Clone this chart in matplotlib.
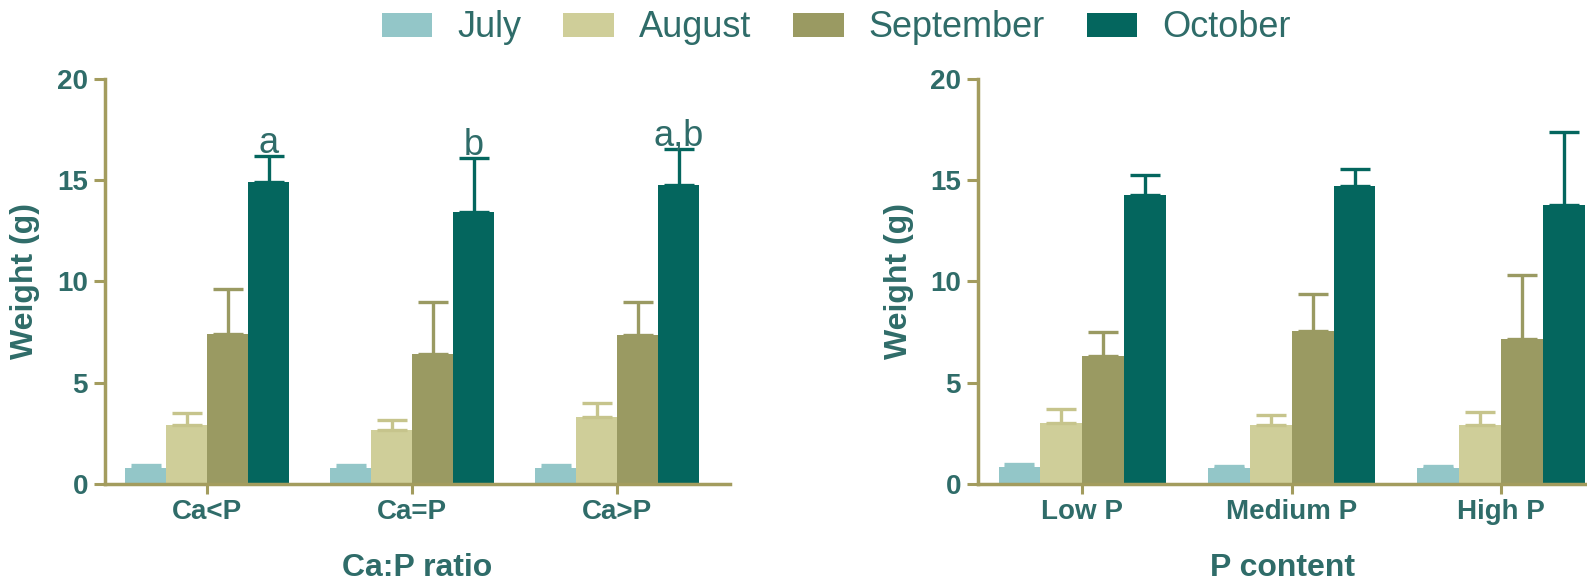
import numpy as np
import matplotlib.pyplot as plt
from matplotlib.patches import Patch

months = ["July", "August", "September", "October"]
colors = ["#93c6c8", "#cfce99", "#9a9a62", "#04665e"]
err_colors = ["#93c6c8", "#c6c48c", "#9a9a62", "#04665e"]

ratio_groups = ["Ca<P", "Ca=P", "Ca>P"]
ratio_means = [
    [0.8, 0.8, 0.8],
    [2.9, 2.65, 3.3],
    [7.4, 6.4, 7.35],
    [14.9, 13.4, 14.75],
]
ratio_sd = [
    [0.15, 0.15, 0.15],
    [0.6, 0.5, 0.7],
    [2.2, 2.6, 1.65],
    [1.3, 2.7, 1.8],
]
ratio_letters = ["a", "b", "a,b"]

p_groups = ["Low P", "Medium P", "High P"]
p_means = [
    [0.85, 0.8, 0.8],
    [3.0, 2.9, 2.9],
    [6.3, 7.55, 7.15],
    [14.25, 14.7, 13.75],
]
p_sd = [
    [0.15, 0.1, 0.1],
    [0.7, 0.5, 0.65],
    [1.2, 1.8, 3.15],
    [1.0, 0.85, 3.6],
]

TEXT = "#2f6c69"
AXIS = "#a39c5e"
plt.rcParams["font.family"] = ["Liberation Sans", "DejaVu Sans"]

fig = plt.figure(figsize=(15.87, 5.83), dpi=100)
ax1 = fig.add_axes([0.066, 0.170, 0.394, 0.695])
ax2 = fig.add_axes([0.616, 0.170, 0.384, 0.695])

width = 0.2
offsets = [-0.3, -0.1, 0.1, 0.3]


def draw_panel(ax, groups, means, sds, xlabel, xmax, letters=None):
    x = np.arange(len(groups))
    for i in range(len(months)):
        sd = np.array(sds[i])
        ax.bar(x + offsets[i], means[i], width, color=colors[i],
               yerr=[np.zeros_like(sd), sd],
               error_kw=dict(ecolor=err_colors[i], elinewidth=2.4,
                             capsize=11, capthick=2.4))
    if letters:
        # significance letters sit right on the October error caps
        for j, lab in enumerate(letters):
            top = means[3][j] + sds[3][j]
            ax.text(x[j] + offsets[3], top + 0.15, lab, ha="center",
                    va="baseline", fontsize=26, color=TEXT)
    ax.set_xlim(-0.5, xmax)
    ax.set_ylim(0, 20)
    ax.set_yticks([0, 5, 10, 15, 20])
    ax.set_xticks(x)
    ax.set_xticklabels(groups, fontsize=20, fontweight="bold", color=TEXT)
    for lab in ax.get_yticklabels():
        lab.set_fontsize(20)
        lab.set_fontweight("bold")
        lab.set_color(TEXT)
    ax.tick_params(axis="y", length=8, width=2.2, color=AXIS, pad=4)
    ax.tick_params(axis="x", length=7, width=2.2, color=AXIS, pad=4)
    for side in ["top", "right"]:
        ax.spines[side].set_visible(False)
    for side in ["left", "bottom"]:
        ax.spines[side].set_color(AXIS)
        ax.spines[side].set_linewidth(2.5)
    ax.set_ylabel("Weight (g)", fontsize=23, fontweight="bold", color=TEXT)
    ax.set_xlabel(xlabel, fontsize=23, fontweight="bold", color=TEXT)
    ax.yaxis.set_label_coords(-0.104, 0.5)
    ax.xaxis.set_label_coords(0.5, -0.17)


draw_panel(ax1, ratio_groups, ratio_means, ratio_sd, "Ca:P ratio", 2.55,
           ratio_letters)
draw_panel(ax2, p_groups, p_means, p_sd, "P content", 2.41)

handles = [Patch(facecolor=c, edgecolor="none") for c in colors]
fig.legend(handles, months, loc="center", bbox_to_anchor=(0.527, 0.952),
           ncol=4, frameon=False, fontsize=26, labelcolor=TEXT,
           handlelength=1.4, handleheight=0.64, handletextpad=0.7,
           columnspacing=1.15)

fig.savefig("out.png", dpi=100)
